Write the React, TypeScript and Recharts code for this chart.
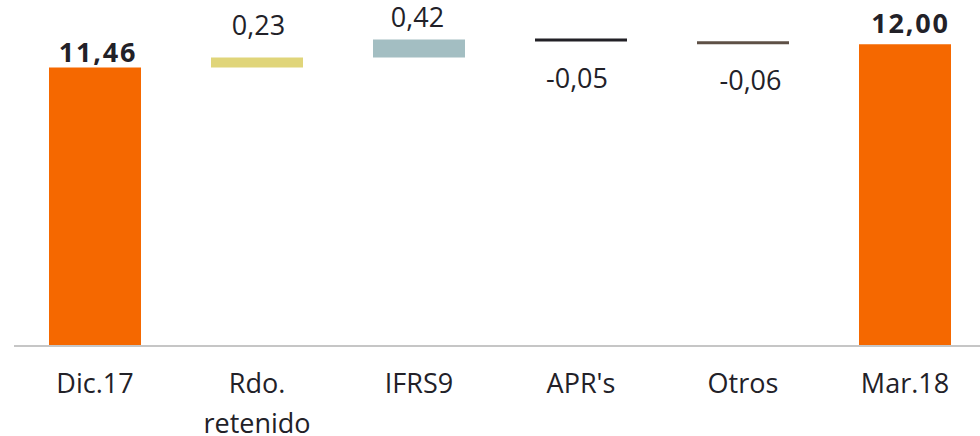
import { BarChart, Bar, XAxis, YAxis, Cell, LabelList } from "recharts";

const CATEGORIES = ["Dic.17", "Rdo. retenido", "IFRS9", "APR's", "Otros", "Mar.18"];
const VALUES = [11.46, 0.23, 0.42, -0.05, -0.06, 12.0];
const IS_TOTAL = [true, false, false, false, false, true];
const COLORS = ["#f56800", "#e0d57a", "#a3bec2", "#222126", "#5e5046", "#f56800"];

const Y_MIN = 5;
const Y_MAX = 13;

// label nudges, matching the reference layout
const LABEL_DX = [3, 1.5, -1.5, -4, 7.5, 5.5];
const LABEL_DY = [5.5, 22, 12.5, 46.5, 46, 10.7];

const FONT = "'Open Sans', sans-serif";
const TEXT = "#222128";

// running totals -> [low, high] range bars
let running = 0;
const data = CATEGORIES.map((name, i) => {
  const v = VALUES[i];
  let range: [number, number];
  if (IS_TOTAL[i]) {
    range = [Y_MIN, v];
    running = v;
  } else {
    const start = running;
    running = start + v;
    range = [Math.min(start, running), Math.max(start, running)];
  }
  return { name, range, value: v };
});

const fmt = (v: number) => v.toFixed(2).replace(".", ",");

const renderTick = (props: any) => {
  const { x, y, payload } = props;
  const words = String(payload.value).split(" ");
  return (
    <text x={x} y={y} textAnchor="middle" fill={TEXT} fontFamily={FONT} fontSize={27}>
      {words.map((w, i) => (
        <tspan key={i} x={x} y={y + 47 + i * 40}>
          {w}
        </tspan>
      ))}
    </text>
  );
};

const renderLabel = (props: any) => {
  const { x, y, width, height, index } = props;
  const v = VALUES[index];
  const cx = x + width / 2 + LABEL_DX[index];
  const ty = v >= 0 ? y - LABEL_DY[index] : y + height + LABEL_DY[index];
  const bold = IS_TOTAL[index];
  return (
    <text
      x={cx}
      y={ty}
      textAnchor="middle"
      fill={TEXT}
      fontFamily={FONT}
      fontSize={27}
      fontWeight={bold ? 700 : 400}
      letterSpacing={bold ? 1.8 : 0}
    >
      {fmt(v)}
    </text>
  );
};

export default function App() {
  return (
    <div style={{ position: "absolute", left: 0, top: 0, width: 980, height: 436, overflow: "hidden", background: "#fff" }}>
      <BarChart width={986} height={436} data={data} margin={{ top: 1, right: 0, left: 14, bottom: 0 }}>
        <XAxis
          dataKey="name"
          height={90}
          interval={0}
          tickLine={false}
          tickSize={0}
          tickMargin={0}
          axisLine={{ stroke: "#c6c6c6", strokeWidth: 2 }}
          tick={renderTick}
        />
        <YAxis hide domain={[Y_MIN, Y_MAX]} allowDataOverflow />
        <Bar dataKey="range" barSize={92} minPointSize={3} isAnimationActive={false}>
          {data.map((_, i) => (
            <Cell key={`cell-${i}`} fill={COLORS[i]} />
          ))}
          <LabelList dataKey="value" content={renderLabel} />
        </Bar>
      </BarChart>
    </div>
  );
}
